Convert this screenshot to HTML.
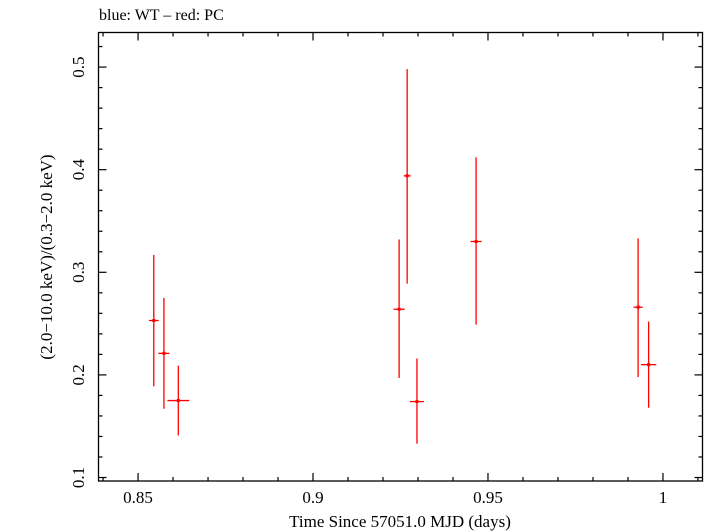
<!DOCTYPE html>
<html><head><meta charset="utf-8"><style>
html,body{margin:0;padding:0;background:#fff;}
svg{display:block;font-family:"Liberation Serif",serif;}
</style></head><body>
<svg id="chart" width="705" height="532">
<text x="99" y="20" font-size="16">blue: WT – red: PC</text>
<rect x="98.5" y="32.5" width="604" height="448.5" fill="none" stroke="#000" stroke-width="1.3"/>
<g id="ticks"></g>
<g id="marks"></g>
<text x="400" y="527" font-size="17" text-anchor="middle">Time Since 57051.0 MJD (days)</text>
<text transform="translate(52,257) rotate(-90)" font-size="17" text-anchor="middle">(2.0−10.0 keV)/(0.3−2.0 keV)</text>
</svg>
<script>
const times=[0.8545,0.8574,0.8615,0.9246,0.9269,0.9297,0.9466,0.9929,0.9959];
const timeErr=[0.0014,0.0016,0.0031,0.0016,0.0010,0.0020,0.0016,0.0013,0.0022];
const ratios=[0.253,0.221,0.175,0.264,0.394,0.174,0.330,0.266,0.210];
const ratioHi=[0.317,0.275,0.209,0.332,0.498,0.216,0.412,0.333,0.252];
const ratioLo=[0.189,0.167,0.141,0.197,0.289,0.133,0.249,0.198,0.168];
const xTickLabels=["0.85","0.9","0.95","1"];
const yTickLabels=["0.1","0.2","0.3","0.4","0.5"];

const L=98.5,R=702.5,T=32.5,B=481;
const X0=0.8387,X1=1.0113,Y0=0.0966,Y1=0.5337;
const sx=v=>L+(v-X0)/(X1-X0)*(R-L);
const sy=v=>B-(v-Y0)/(Y1-Y0)*(B-T);
const NS="http://www.w3.org/2000/svg";
function mk(tag,attrs,parent){const e=document.createElementNS(NS,tag);for(const k in attrs)e.setAttribute(k,attrs[k]);parent.appendChild(e);return e;}
const tg=document.getElementById('ticks');
for(let i=84;i<=101;i++){const v=i/100;const x=sx(v);const major=i%5===0;const len=major?8:4;
 const t1=mk('line',{x1:x,x2:x,y1:B,y2:B-len,stroke:'#000','stroke-width':1.2},tg);
 
 
 const t2=mk('line',{x1:x,x2:x,y1:T,y2:T+len,stroke:'#000','stroke-width':1.2},tg);
 
 }
xTickLabels.forEach(s=>{const t=mk('text',{x:sx(parseFloat(s)),y:503,'font-size':17,'text-anchor':'middle'},tg);t.textContent=s;
 
 });
for(let i=5;i<=26;i++){const v=i/50;const y=sy(v);const major=i%5===0;const len=major?8:4;
 const t1=mk('line',{x1:L,x2:L+len,y1:y,y2:y,stroke:'#000','stroke-width':1.2},tg);
 
 
 const t2=mk('line',{x1:R,x2:R-len,y1:y,y2:y,stroke:'#000','stroke-width':1.2},tg);
 
 }
yTickLabels.forEach(s=>{const y=sy(parseFloat(s));const t=mk('text',{transform:`translate(84,${y}) rotate(-90)`,'font-size':17,'text-anchor':'middle'},tg);t.textContent=s;
 
 });
const mg=document.getElementById('marks');
times.forEach((t,i)=>{const g=mk('g',{},mg);
 
 
 mk('line',{x1:sx(t),x2:sx(t),y1:sy(ratioHi[i]),y2:sy(ratioLo[i]),stroke:'#f00','stroke-width':1.3},g);
 mk('line',{x1:sx(t-timeErr[i]),x2:sx(t+timeErr[i]),y1:sy(ratios[i]),y2:sy(ratios[i]),stroke:'#f00','stroke-width':1.3},g);
 mk('rect',{x:sx(t)-1.5,y:sy(ratios[i])-1.5,width:3,height:3,fill:'#f00'},g);});
</script>
</body></html>
